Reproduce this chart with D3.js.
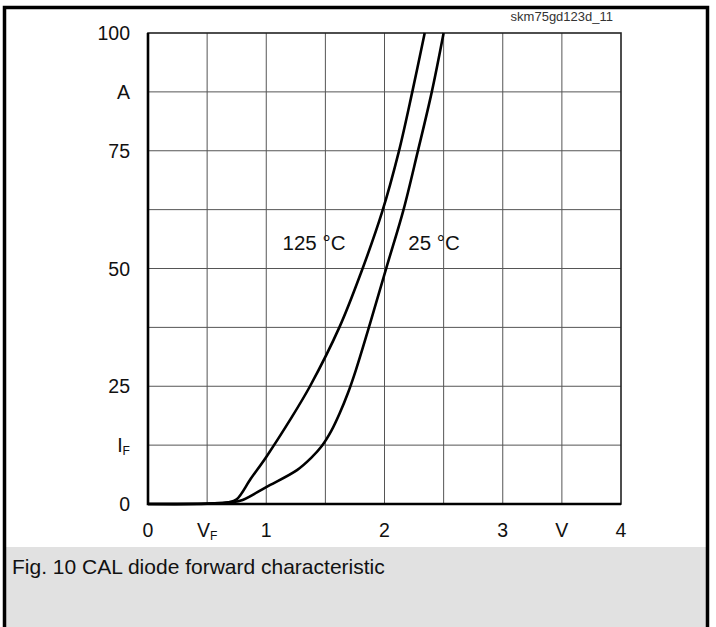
<!DOCTYPE html>
<html><head><meta charset="utf-8">
<script src="https://cdn.jsdelivr.net/npm/d3@7"></script>
<style>
html,body{margin:0;padding:0;background:#fff;}
svg{display:block;font-family:Arial,"Liberation Sans",sans-serif;}
</style></head>
<body>
<svg id="c" width="716" height="627"></svg>
<script>
// Data
const voltage125 = [0, 0.5, 0.68, 0.75, 0.87, 1.0, 1.2, 1.37, 1.62, 1.80, 1.98, 2.12, 2.235, 2.34];
const current125 = [0, 0.1, 0.35, 1.0, 5.4, 10.0, 17.8, 25.0, 37.6, 49.0, 62.0, 74.7, 87.5, 100];
const voltage25 = [0, 0.5, 0.7, 0.8, 1.0, 1.26, 1.38, 1.47, 1.55, 1.62, 1.69, 1.76, 1.88, 2.02, 2.16, 2.28, 2.40, 2.50];
const current25 = [0, 0.05, 0.35, 0.85, 3.6, 7.2, 9.8, 12.3, 15.5, 19.2, 23.5, 28.6, 38.5, 50.5, 62.4, 74.7, 87.5, 100];
const xTickValues = [0, 0.5, 1, 2, 3, 3.5, 4];
const xTickLabels = ["0", "V|F", "1", "2", "3", "V", "4"];
const yTickValues = [100, 87.5, 75, 50, 25, 12.5, 0];
const yTickLabels = ["100", "A", "75", "50", "25", "I|F", "0"];
const seriesLabels = ["125 °C", "25 °C"];
const figId = "skm75gd123d_11";
const caption = "Fig. 10 CAL diode forward characteristic";

const svg = d3.select("#c");
const x = d3.scaleLinear().domain([0, 4]).range([148, 621]);
const y = d3.scaleLinear().domain([0, 100]).range([504, 33]);
const FS = 19.5;

// caption panel
svg.append("rect").attr("x", 5).attr("y", 547).attr("width", 702).attr("height", 82).attr("fill", "#e1e1e1");
svg.append("text").attr("x", 12).attr("y", 574).attr("font-size", 21).attr("fill", "#111").text(caption);

// outer frame
svg.append("path").attr("d", "M4.5,640 V7.5 H707.5 V640").attr("fill", "none").attr("stroke", "#000").attr("stroke-width", 3.5);

// figure id
svg.append("text").attr("x", 613).attr("y", 21).attr("text-anchor", "end").attr("font-size", 13).attr("fill", "#333").text(figId);

// grid
const g = svg.append("g");
g.selectAll(".vg").data(d3.range(0.5, 4, 0.5)).join("line")
  .attr("x1", d => x(d)).attr("x2", d => x(d)).attr("y1", y(0)).attr("y2", y(100))
  .attr("stroke", "#555").attr("stroke-width", 1);
g.selectAll(".hg").data(d3.range(12.5, 100, 12.5)).join("line")
  .attr("y1", d => y(d)).attr("y2", d => y(d)).attr("x1", x(0)).attr("x2", x(4))
  .attr("stroke", "#555").attr("stroke-width", 1);
// frame
g.append("rect").attr("x", x(0)).attr("y", y(100)).attr("width", x(4) - x(0)).attr("height", y(0) - y(100))
  .attr("fill", "none").attr("stroke", "#222").attr("stroke-width", 1.6);
g.append("path").attr("d", `M${x(0)},${y(100)} V${y(0)} H${x(4)}`).attr("fill", "none").attr("stroke", "#000").attr("stroke-width", 2.6);

// curves
const line = d3.line().x(d => x(d[0])).y(d => y(d[1])).curve(d3.curveCatmullRom.alpha(0.5));
svg.append("path").datum(voltage125.map((v, i) => [v, current125[i]])).attr("d", line)
  .attr("fill", "none").attr("stroke", "#000").attr("stroke-width", 2.6);
svg.append("path").datum(voltage25.map((v, i) => [v, current25[i]])).attr("d", line)
  .attr("fill", "none").attr("stroke", "#000").attr("stroke-width", 2.6);

function label(sel, str) {
  const parts = str.split("|");
  sel.append("tspan").text(parts[0]);
  if (parts[1]) sel.append("tspan").attr("font-size", "0.62em").attr("dy", "0.25em").text(parts[1]);
}
// y labels
yTickValues.forEach((v, i) => {
  const t = svg.append("text").attr("x", 130).attr("y", y(v)).attr("dy", "0.36em")
    .attr("text-anchor", "end").attr("font-size", FS).attr("fill", "#111");
  label(t, yTickLabels[i]);
});
// x labels
xTickValues.forEach((v, i) => {
  const t = svg.append("text").attr("x", x(v)).attr("y", 537)
    .attr("text-anchor", "middle").attr("font-size", FS).attr("fill", "#111");
  label(t, xTickLabels[i]);
});
// series labels
svg.append("text").attr("x", 314).attr("y", 250).attr("text-anchor", "middle")
  .attr("font-size", 20.5).attr("fill", "#111").text(seriesLabels[0]);
svg.append("text").attr("x", 434).attr("y", 250).attr("text-anchor", "middle")
  .attr("font-size", 20.5).attr("fill", "#111").text(seriesLabels[1]);
</script>
</body></html>
